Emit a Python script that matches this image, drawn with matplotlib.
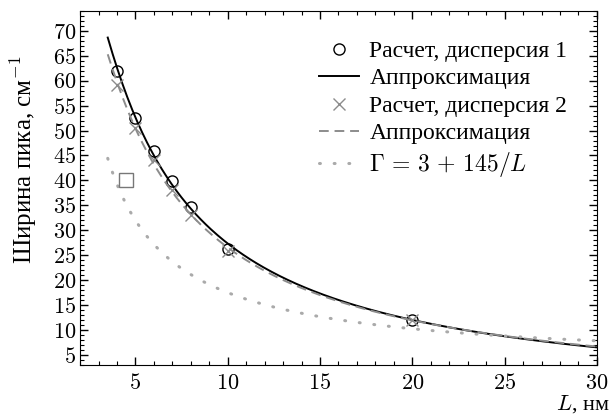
"""Peak width vs. particle size L: two dispersion calculations with fits."""
import numpy as np
import matplotlib
matplotlib.use('Agg')
import matplotlib.pyplot as plt
from matplotlib.ticker import MultipleLocator

plt.rcParams['font.family'] = ['cmr10', 'Liberation Serif']
plt.rcParams['mathtext.fontset'] = 'cm'
plt.rcParams['axes.formatter.use_mathtext'] = True

# data
L1 = [4, 5, 6, 7, 8, 10, 20]
width1 = [61.9, 52.6, 45.9, 39.9, 34.6, 26.3, 12.1]
L2 = [4, 5, 6, 7, 8, 10, 20]
width2 = [59.1, 50.6, 44.1, 38.1, 33.1, 25.9, 12.0]
L_exp = [4.5]
width_exp = [40.0]

labels = ['Расчет, дисперсия 1', 'Аппроксимация',
          'Расчет, дисперсия 2', 'Аппроксимация',
          r'$\Gamma\,=\,3\,+\,145/L$']

# approximations: a + b/L + c/L^2, relative least squares
Lf = np.linspace(3.5, 30, 300)
p1 = np.polyfit(1.0 / np.array(L1), width1, 2, w=1.0 / np.array(width1))
p2 = np.polyfit(1.0 / np.array(L2), width2, 2, w=1.0 / np.array(width2))
fit1 = np.polyval(p1, 1.0 / Lf)
fit2 = np.polyval(p2, 1.0 / Lf)
model = 3 + 145 / Lf

fig = plt.figure(figsize=(6.11, 4.18), dpi=100)
ax = fig.add_axes([0.131, 0.127, 0.846, 0.847])

ax.plot(L1, width1, 'o', mfc='none', mec='black', ms=8, mew=1.0, label=labels[0])
ax.plot(Lf, fit1, '-', color='black', lw=1.4, label=labels[1])
ax.plot(L2, width2, 'x', color='#8c8c8c', ms=8, mew=1.0, label=labels[2])
ax.plot(Lf, fit2, '--', color='#8c8c8c', lw=1.4, dashes=(5, 3), label=labels[3])
ax.plot(Lf, model, ':', color='#aaaaaa', lw=2.2, dashes=(0.3, 4.5),
        dash_capstyle='round', label=labels[4])
ax.plot(L_exp, width_exp, 's', mfc='none', mec='#777777', ms=9.5, mew=1.0)

ax.set_xlim(2, 30)
ax.set_ylim(3, 74)
ax.xaxis.set_major_locator(MultipleLocator(5))
ax.xaxis.set_minor_locator(MultipleLocator(1))
ax.yaxis.set_major_locator(MultipleLocator(5))
ax.yaxis.set_minor_locator(MultipleLocator(1))
ax.tick_params(which='both', direction='in', top=True, right=True, labelsize=16)
ax.tick_params(which='major', length=6, width=1)
ax.tick_params(which='minor', length=3, width=0.8)
ax.tick_params(axis='x', pad=6)
ax.tick_params(axis='y', pad=3)
ax.set_yticks(np.arange(5, 71, 5))

ax.set_ylabel('Ширина пика, см$^{-1}$', fontsize=18, family='Liberation Serif')
ax.yaxis.set_label_coords(-0.08, 0.58)
fig.text(0.998, 0.02, '$L$, нм', fontsize=16, ha='right', va='baseline',
         family='Liberation Serif')

ax.legend(loc='upper right', frameon=False, handlelength=1.7,
          handletextpad=0.45, labelspacing=0.25, borderaxespad=0.85,
          prop={'family': 'Liberation Serif', 'size': 17})

fig.savefig('out.png', dpi=100)
